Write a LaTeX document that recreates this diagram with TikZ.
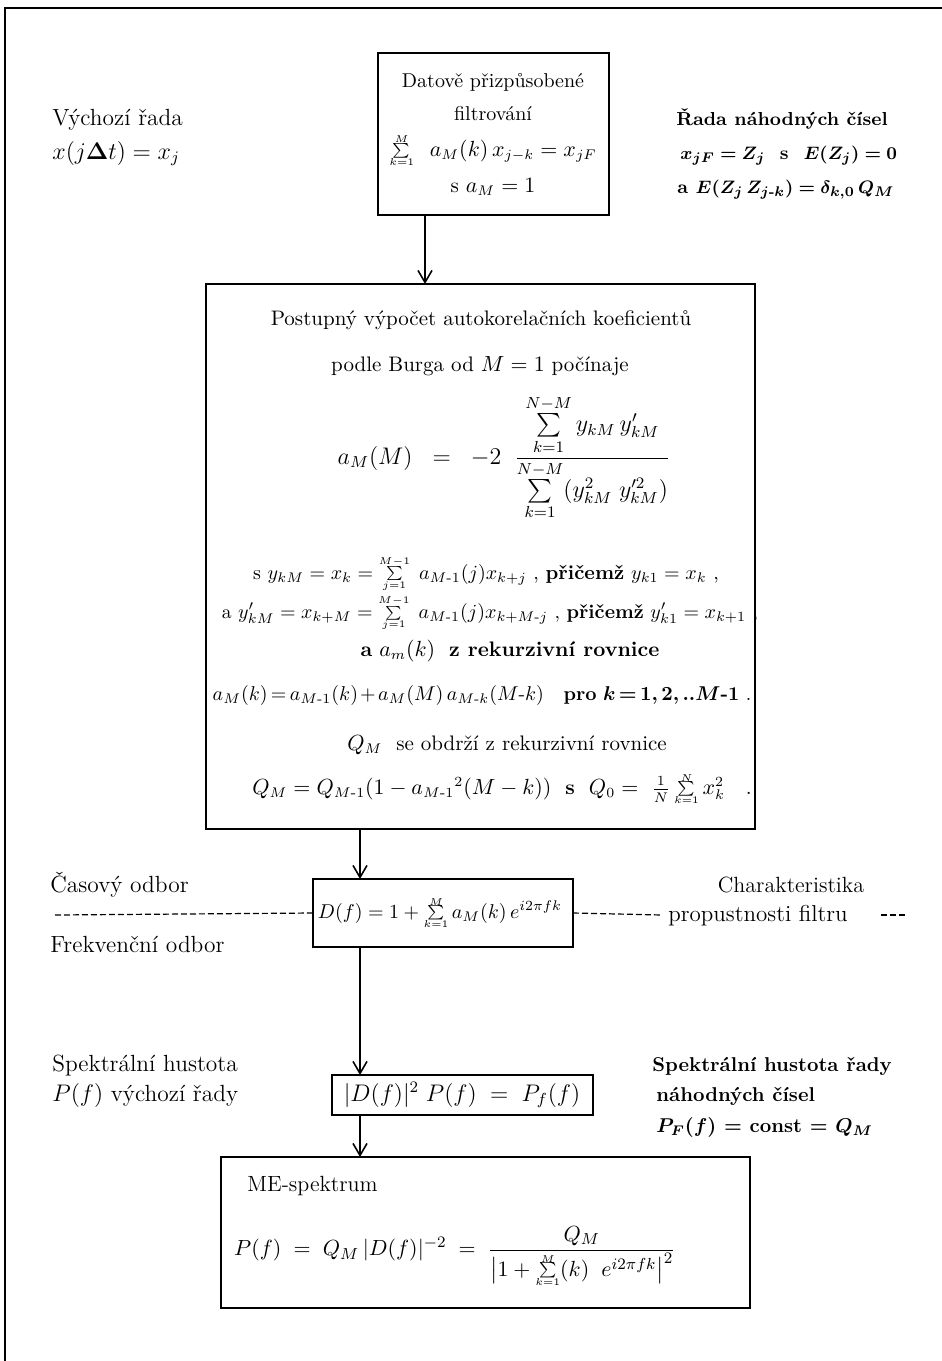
\documentclass[tikz,border=0pt]{standalone}
\usepackage{amsmath,amssymb,bm}
\usetikzlibrary{arrows.meta}
\newcommand{\tsum}[2]{\mathop{\vcenter{\offinterlineskip\halign{\hfil##\hfil\cr$\scriptscriptstyle #2$\cr\noalign{\kern0.3pt}$\scriptstyle\sum$\cr\noalign{\kern0.3pt}$\scriptscriptstyle #1$\cr}}}\nolimits}
\begin{document}
\begin{tikzpicture}[x=0.5pt,y=-0.5pt,
  box/.style={draw, line width=1pt, inner sep=0pt, outer sep=0pt},
  arr/.style={line width=0.8pt, -{Straight Barb[length=6pt,width=7pt,line width=0.8pt]}},
  txt/.style={inner sep=0pt, anchor=base west, font=\fontsize{11.7}{14}\selectfont},
  ctxt/.style={inner sep=0pt, anchor=base, font=\fontsize{10.5}{12}\selectfont},
  mtxt/.style={inner sep=0pt, anchor=center, font=\fontsize{10.5}{12}\selectfont},
  btxt/.style={inner sep=0pt, anchor=base west, font=\fontsize{10}{12}\selectfont\bfseries},
  dline/.style={line width=0.6pt, dash pattern=on 3pt off 1.5pt}]
\useasboundingbox (0,0) rectangle (942,1361);
% frame
\draw[line width=1pt] (942,8) -- (5,8) -- (5,1361);

% boxes
\node[box, minimum width=115.5pt, minimum height=81pt] (b1) at (493.5,134) {};
\node[box, minimum width=274.5pt, minimum height=272.5pt] (b2) at (480.5,556.5) {};
\node[box, minimum width=130pt, minimum height=34pt] (b3) at (443,913) {};
\node[box, minimum width=130.5pt, minimum height=20pt] (b4) at (462.5,1095) {};
\node[box, minimum width=264.5pt, minimum height=75.5pt] (b5) at (485.5,1232.5) {};

% connectors
\coordinate (c1) at (425,0);
\coordinate (c2) at (360,0);
\draw[arr] (b1.south -| c1) -- (b2.north -| c1);
\draw[arr] (b2.south -| c2) -- (b3.north -| c2);
\draw[arr] (b3.south -| c2) -- (b4.north -| c2);
\draw[arr] (b4.south -| c2) -- (b5.north -| c2);

% box 1 text
\node[ctxt, font=\fontsize{10}{12}\selectfont] (t11) at (493,87) {Datově přizpůsobené};
\node[ctxt, font=\fontsize{10}{12}\selectfont] (t12) at (493,120) {filtrování};
\node[mtxt, font=\fontsize{10.5}{12}\selectfont] (t13) at (493,151) {$\tsum{k=1}{M}\;\; a_M(k)\,x_{j-k} = x_{jF}$};
\node[ctxt, font=\fontsize{10.5}{12}\selectfont] (t14) at (493,192) {s $a_M = 1$};

% left / right top
\node[txt] (l1) at (52,125) {Výchozí řada};
\node[txt] (l2) at (52,159) {$x(j\bm{\Delta} t) = x_j$};
\node[btxt, font=\fontsize{9.4}{12}\selectfont\bfseries] (r1) at (676,125) {Řada náhodných čísel};
\node[btxt, font=\fontsize{9.4}{12}\selectfont\bfseries] (r2) at (680,159) {$\bm{x_{jF} = Z_j}$\ \ s\ \ $\bm{E(Z_j) = 0}$};
\node[btxt, font=\fontsize{9.4}{12}\selectfont\bfseries] (r3) at (677,193) {a\ $\bm{E(Z_j\,Z_{j\text{-}k}) = \delta_{k,0}\,Q_M}$};

% box 2 text
\node[ctxt] (t21) at (481,325) {Postupný výpočet autokorelačních koeficientů};
\node[ctxt] (t22) at (480,371) {podle Burga od $M = 1$ počínaje};
\node[mtxt, font=\fontsize{11.8}{14}\selectfont] (t23) at (504,458) {$a_M(M) \;\;=\;\; -2\;\;\dfrac{\sum\limits_{k=1}^{N-M} y_{kM}\,y'_{kM}}{\sum\limits_{k=1}^{N-M}(y_{kM}^{2}\;y'^{2}_{kM})}$};
\node[mtxt, font=\fontsize{10}{12}\selectfont] (t24) at (486,574) {s $y_{kM} = x_k = \tsum{j=1}{M-1}\; a_{M\text{-}1}(j)x_{k+j}$ , \textbf{přičemž} $y_{k1} = x_k$ ,};
\node[mtxt, font=\fontsize{9.8}{12}\selectfont] (t25) at (490,613) {a $y'_{kM} = x_{k+M} = \tsum{j=1}{M-1}\; a_{M\text{-}1}(j)x_{k+M\text{-}j}$ , \textbf{přičemž} $y'_{k1} = x_{k+1}$ ,};
\node[ctxt] (t26) at (510,656) {\textbf{a} $a_m(k)$\ \ \textbf{z rekurzivní rovnice}};
\node[ctxt, font=\fontsize{9.8}{12}\selectfont] (t27) at (482,700) {\medmuskip=2mu\thickmuskip=3mu\relax $a_M(k) = a_{M\text{-}1}(k) + a_M(M)\,a_{M\text{-}k}(M\text{-}k)$\ \ \ \textbf{pro} $\bm{k = 1,2,..M}$\textbf{-1} .};
\node[ctxt] (t28) at (507,750) {$Q_M$\ \ se obdrží z rekurzivní rovnice};
\node[mtxt] (t29) at (502,789) {$Q_M = Q_{M\text{-}1}(1 - a_{M\text{-}1}{}^{2}(M - k))$\ \ \textbf{s}\ \ $Q_0 = \ \frac{1}{N}\tsum{k=1}{N} x_k^2$\quad .};

% box 3 row
\node[mtxt, font=\fontsize{10.3}{12}\selectfont] (t31) at (440,913) {$D(f) = 1 + \tsum{k=1}{M} a_M(k)\,e^{i2\pi fk}$};
\node[txt] (l3) at (50,892) {Časový odbor};
\node[txt] (l4) at (50,952) {Frekvenční odbor};
\node[ctxt, font=\fontsize{11}{12}\selectfont] (r4) at (791,892) {Charakteristika};
\node[btxt, font=\fontsize{11.5}{12}\selectfont] (r5) at (668,921) {propustnosti filtru};
\coordinate (d1) at (55,915);
\coordinate (d2) at (662,915);
\coordinate (d3) at (881,915);
\coordinate (d4) at (905,915);
\draw[dline] (d1) -- (b3.west);
\draw[dline] (b3.east) -- (d2);
\draw[dline] (d3) -- (d4);

% box 4 row
\node[mtxt, font=\fontsize{11.5}{12}\selectfont] (t41) at (462,1095) {$|D(f)|^2\;P(f) \;=\; P_f(f)$};
\node[txt] (l5) at (52,1071) {Spektrální hustota};
\node[txt] (l6) at (52,1101) {$P(f)$ výchozí řady};
\node[btxt] (r6) at (652,1071) {Spektrální hustota řady};
\node[btxt] (r7) at (656,1101) {náhodných čísel};
\node[btxt] (r8) at (656,1132) {$\bm{P_F(f)}$ = const = $\bm{Q_M}$};

% box 5
\node[txt, font=\fontsize{11}{12}\selectfont] (t51) at (247,1191) {ME-spektrum};
\node[mtxt, font=\fontsize{11}{13}\selectfont] (t52) at (455,1256) {$P(f) \;=\; Q_M\,|D(f)|^{-2} \;=\; \dfrac{Q_M}{\bigl|1 + \tsum{k=1}{M}(k)\;\;e^{i2\pi fk}\bigr|^2}$};
\end{tikzpicture}
\end{document}
